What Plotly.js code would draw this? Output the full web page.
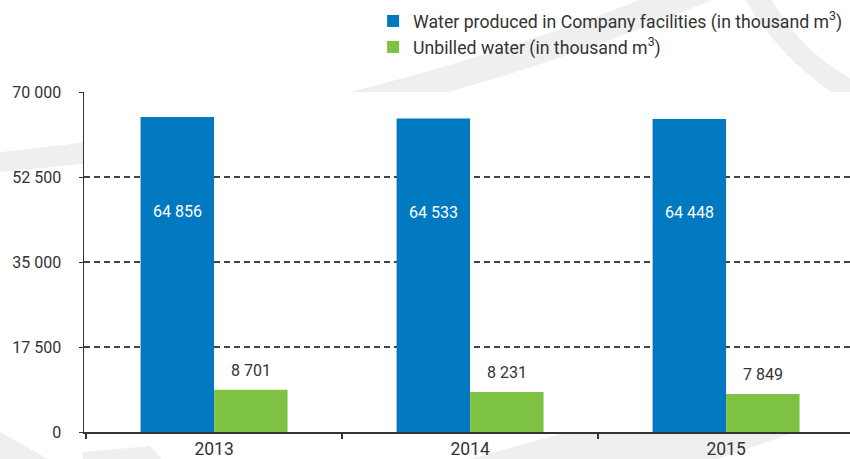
<!DOCTYPE html>
<html>
<head>
<meta charset="utf-8">
<script src="https://cdn.plot.ly/plotly-3.0.1.min.js"></script>
<style>
  html, body { margin: 0; padding: 0; background: #ffffff; }
  #chart {
    width: 850px; height: 459px;
    background-repeat: no-repeat;
    background-size: 850px 459px;
  }
</style>
</head>
<body>
<div id="chart"></div>
<script>
// ---- data ----
const years = ['2013', '2014', '2015'];
const waterProduced = [64856, 64533, 64448];
const unbilledWater = [8701, 8231, 7849];
const seriesNames = [
  'Water produced in Company facilities (in thousand m<sup>3</sup>)',
  'Unbilled water (in thousand m<sup>3</sup>)'
];
const yTicks = [0, 17500, 35000, 52500, 70000];

// ---- styles ----
const BLUE = '#0079c1';
const GREEN = '#7dc242';
const TEXT = '#333333';
const FONT = 'Roboto, "Noto Sans", sans-serif';
const BARGAP = 0.426;

// decorative background swooshes (outside plot area)
const svg = `<svg xmlns="http://www.w3.org/2000/svg" width="850" height="459" viewBox="0 0 850 459">
<g fill="#efefef">
<path d="M0,152 Q330,120 640,0 L712,0 Q380,140 0,172 Z"/>
<path d="M745,0 L772,0 Q800,50 850,78 L850,104 Q785,66 745,0 Z"/>
<path d="M470,459 L610,420 L830,420 L718,459 Z"/>
<path d="M0,432 L48,459 L0,459 Z"/>
<path d="M83,452 L150,446 L162,459 L83,459 Z"/>
</g></svg>`;
document.getElementById('chart').style.backgroundImage =
  'url("data:image/svg+xml;utf8,' + encodeURIComponent(svg) + '")';

function fmt(n) {
  return String(n).replace(/\B(?=(\d{3})+(?!\d))/g, ' ');
}

const traces = [
  { type: 'bar', name: seriesNames[0], x: years, y: waterProduced,
    marker: { color: BLUE }, hoverinfo: 'skip' },
  { type: 'bar', name: seriesNames[1], x: years, y: unbilledWater,
    marker: { color: GREEN }, hoverinfo: 'skip' }
];

const off = (1 - BARGAP) / 4;
const annotations = [];
years.forEach((yr, i) => {
  annotations.push({
    x: i - off, y: waterProduced[i] * 0.70, xref: 'x', yref: 'y',
    text: fmt(waterProduced[i]), showarrow: false,
    font: { family: FONT, size: 16, color: '#ffffff' }
  });
  annotations.push({
    x: i + off, y: unbilledWater[i], xref: 'x', yref: 'y',
    yanchor: 'bottom', yshift: 8,
    text: fmt(unbilledWater[i]), showarrow: false,
    font: { family: FONT, size: 16, color: TEXT }
  });
});

const layout = {
  width: 850, height: 459,
  margin: { l: 84, r: 0, t: 92, b: 27 },
  paper_bgcolor: 'rgba(0,0,0,0)',
  plot_bgcolor: '#ffffff',
  separators: '. ',
  font: { family: FONT, size: 16, color: TEXT },
  barmode: 'group',
  bargap: BARGAP,
  bargroupgap: 0,
  showlegend: true,
  legend: {
    x: 0.3774, xanchor: 'left', y: 1.262, yanchor: 'top',
    orientation: 'v', bgcolor: 'rgba(0,0,0,0)',
    font: { family: FONT, size: 17.7, color: TEXT },
    traceorder: 'normal'
  },
  xaxis: {
    type: 'category',
    range: [-0.508, 2.484],
    showline: true, linecolor: TEXT, linewidth: 1.5,
    ticks: 'outside', tickson: 'boundaries', ticklen: 5, tickcolor: TEXT, tickwidth: 1.5,
    showgrid: false, zeroline: false,
    tickfont: { family: FONT, size: 17.5, color: TEXT },
    ticklabelstandoff: 0,
    fixedrange: true
  },
  yaxis: {
    range: [0, 70000],
    tickvals: yTicks,
    tickformat: ',d',
    showline: true, linecolor: TEXT, linewidth: 1.5,
    ticks: 'outside', ticklen: 4, tickcolor: TEXT,
    showgrid: true, gridcolor: '#444444', gridwidth: 1.2, griddash: '6px,4px',
    zeroline: false,
    tickfont: { family: FONT, size: 16, color: TEXT },
    ticklabelstandoff: 14,
    fixedrange: true
  },
  annotations: annotations
};

Plotly.newPlot('chart', traces, layout, { staticPlot: true, displayModeBar: false });
</script>
</body>
</html>
